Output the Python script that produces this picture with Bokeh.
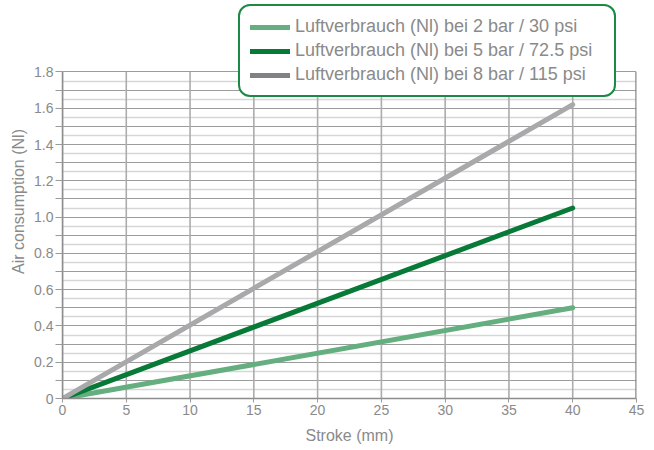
import numpy as np
from bokeh.plotting import figure
from bokeh.models import (Legend, LegendItem, FixedTicker, Range1d,
                          CustomJSTickFormatter)
from bokeh.embed import file_html
from bokeh.resources import INLINE

# ---- data ----
stroke_mm = [0, 40]
air_2bar = [0, 0.50]
air_5bar = [0, 1.05]
air_8bar = [0, 1.62]
series_labels = [
    "Luftverbrauch (Nl) bei 2 bar / 30 psi",
    "Luftverbrauch (Nl) bei 5 bar / 72.5 psi",
    "Luftverbrauch (Nl) bei 8 bar / 115 psi",
]
x_ticks = [0, 5, 10, 15, 20, 25, 30, 35, 40, 45]
y_ticks = [0, 0.2, 0.4, 0.6, 0.8, 1.0, 1.2, 1.4, 1.6, 1.8]

# ---- styles ----
C_LIGHT = "#64ae80"
C_DARK = "#087a37"
C_GRAY = "#a9a9ab"
C_GRAY_LEG = "#808085"
TXT = "#8a8a8a"
FONT = "Liberation Sans"

x_max = x_ticks[-1]
y_max = y_ticks[-1]
# extra headroom above the axis top so that the legend box can sit over the chart's top edge
y_view_top = 2.172

p = figure(width=650, height=446, x_range=Range1d(0, x_max), y_range=Range1d(0, y_view_top),
           output_backend="svg", toolbar_location=None,
           min_border_left=62, min_border_right=14, min_border_top=4, min_border_bottom=45)
p.outline_line_color = None

# grids
p.xgrid.grid_line_color = None
p.ygrid.ticker = FixedTicker(ticks=np.round(np.arange(0, y_max + 0.001, 0.1), 2).tolist(),
                             minor_ticks=np.round(np.arange(0.05, y_max, 0.1), 2).tolist())
p.ygrid.grid_line_color = "#9c9c9c"
p.ygrid.grid_line_width = 1.2
p.ygrid.minor_grid_line_color = "#d6d6d6"
p.ygrid.minor_grid_line_width = 1.5

# vertical grid lines limited to the axis height
p.segment(x0=x_ticks[:-1], y0=[0] * (len(x_ticks) - 1), x1=x_ticks[:-1],
          y1=[y_max] * (len(x_ticks) - 1), line_color="#acacac", line_width=1.6)
# right border
p.segment(x0=[x_max], y0=[0], x1=[x_max], y1=[y_max], line_color="#8a8a8a", line_width=2.5)

# x axis
xa = p.xaxis[0]
xa.ticker = FixedTicker(ticks=x_ticks)
xa.axis_label = "Stroke (mm)"
xa.major_tick_out = 4
xa.major_tick_in = 0
xa.minor_tick_out = 0
xa.minor_tick_in = 0
xa.major_tick_line_color = "#9a9a9a"
xa.axis_line_color = "#8c8c8c"
xa.axis_line_width = 1.5
xa.major_label_standoff = 2
xa.major_label_text_font = FONT
xa.major_label_text_font_size = "14px"
xa.major_label_text_color = TXT
xa.axis_label_text_font = FONT
xa.axis_label_text_font_size = "16px"
xa.axis_label_text_font_style = "normal"
xa.axis_label_text_color = TXT
xa.axis_label_standoff = 9

# y axis
ya = p.yaxis[0]
ya.bounds = (0, y_max)
ya.ticker = FixedTicker(ticks=y_ticks,
                        minor_ticks=np.round(np.arange(0.1, y_max, 0.2), 2).tolist())
ya.formatter = CustomJSTickFormatter(code="return tick == 0 ? '0' : tick.toFixed(1);")
ya.axis_label = "Air consumption (Nl)"
ya.major_tick_out = 7
ya.major_tick_in = 0
ya.minor_tick_out = 7
ya.minor_tick_in = 0
ya.major_tick_line_color = "#9a9a9a"
ya.minor_tick_line_color = "#9a9a9a"
ya.axis_line_color = "#8c8c8c"
ya.axis_line_width = 1.5
ya.major_label_standoff = 2
ya.major_label_text_font = FONT
ya.major_label_text_font_size = "14px"
ya.major_label_text_color = TXT
ya.axis_label_text_font = FONT
ya.axis_label_text_font_size = "16px"
ya.axis_label_text_font_style = "normal"
ya.axis_label_text_color = TXT
ya.axis_label_standoff = 4

# lines
p.line(stroke_mm, air_2bar, line_color=C_LIGHT, line_width=5, line_cap="round")
p.line(stroke_mm, air_5bar, line_color=C_DARK, line_width=5, line_cap="round")
p.line(stroke_mm, air_8bar, line_color=C_GRAY, line_width=5, line_cap="round")

# legend proxies (legend glyph colours; NaN = nothing drawn in the plot)
nan2 = [np.nan, np.nan]
l1 = p.line(x=nan2, y=nan2, line_color=C_LIGHT, line_width=5, line_cap="round")
l2 = p.line(x=nan2, y=nan2, line_color=C_DARK, line_width=5, line_cap="round")
l3 = p.line(x=nan2, y=nan2, line_color=C_GRAY_LEG, line_width=5, line_cap="round")

legend = Legend(items=[LegendItem(label=series_labels[0], renderers=[l1]),
                       LegendItem(label=series_labels[1], renderers=[l2]),
                       LegendItem(label=series_labels[2], renderers=[l3])],
                location=(176, 301), orientation="vertical",
                glyph_width=40, glyph_height=20, label_height=20, label_standoff=5,
                spacing=3, padding=10, margin=0, label_width=309,
                label_text_font=FONT,
                label_text_font_size="18px", label_text_color=TXT,
                border_line_color="#1b8a45", border_line_width=2.5, border_line_alpha=1.0,
                background_fill_color="white", background_fill_alpha=1.0)
if "border_radius" in Legend.properties():
    legend.border_radius = 12
p.add_layout(legend)

open("out.html", "w").write(file_html(p, INLINE))
